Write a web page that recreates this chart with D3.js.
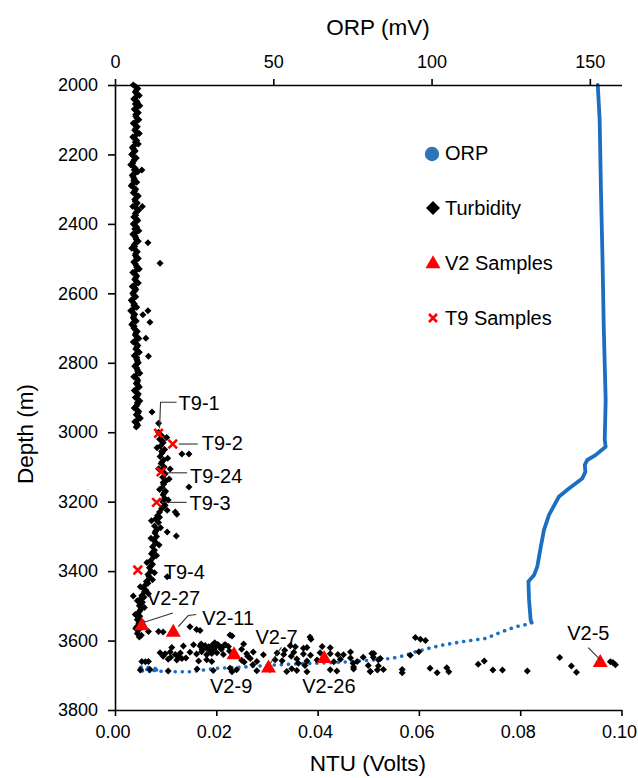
<!DOCTYPE html>
<html><head><meta charset="utf-8">
<script src="https://cdn.jsdelivr.net/npm/d3@7"></script>
<style>
html,body{margin:0;padding:0;background:#fff;}
svg text{font-family:"Liberation Sans",Arial,sans-serif;fill:#000;}
</style></head>
<body><svg id="chart" width="638" height="778"></svg>
<script>
// ---------- DATA ----------
const depthTicks = [2000,2200,2400,2600,2800,3000,3200,3400,3600,3800];
const ntuTicks = [0,0.02,0.04,0.06,0.08,0.10];
const orpTicks = [0,50,100,150];

// ORP (depth m, mV) - continuous trace
const orpLine = [[2000,152.5],[2100,153.1],[2300,153.5],[2500,154.0],[2700,154.4],[2907,155.0],[3022,154.7],[3042,155.0],[3066,151.8],[3080,149.2],[3094,148.4],[3114,148.6],[3133,147.6],[3162,143.4],[3186,140.2],[3238,137.1],[3282,135.5],[3330,134.5],[3387,133.4],[3411,132.4],[3430,130.6],[3483,130.8],[3541,131.3],[3548,131.6]];
// ORP - sparse bottom trace
const orpSparse = [[3548,131.6],[3552,131.0],[3560,126.6],[3574,122.4],[3594,117.1],[3603,109.8],[3613,103.5],[3622,99.3],[3632,95.1],[3642,91.9],[3651,87.7],[3656,81.4],[3661,74.1],[3664,68.0],[3666,60.4],[3670,51.0],[3677,39.4],[3680,32.0],[3690,23.6],[3690,16.3],[3686,12.0],[3680,8.0],[3676,7.0],[3677,11.0],[3683,14.0],[3689,11.0],[3687,7.5],[3682,9.0]];

// Turbidity (depth m, NTU volts)
const turbColumn = [
[2000,0.0036],[2010,0.0045],[2020,0.0040],[2030,0.0048],[2040,0.0037],[2050,0.0044],[2060,0.0049],[2070,0.0038],[2080,0.0046],[2090,0.0041],
[2100,0.0047],[2110,0.0036],[2120,0.0044],[2130,0.0039],[2140,0.0048],[2150,0.0035],[2160,0.0043],[2170,0.0046],[2180,0.0034],[2190,0.0040],
[2200,0.0033],[2210,0.0042],[2220,0.0036],[2230,0.0031],[2240,0.0040],[2250,0.0045],[2260,0.0034],[2270,0.0038],[2280,0.0043],[2290,0.0032],
[2300,0.0041],[2310,0.0036],[2320,0.0046],[2330,0.0039],[2340,0.0044],[2350,0.0035],[2360,0.0047],[2370,0.0040],[2380,0.0037],[2390,0.0045],
[2400,0.0036],[2410,0.0043],[2420,0.0047],[2430,0.0035],[2440,0.0041],[2450,0.0046],[2460,0.0038],[2470,0.0033],[2480,0.0044],[2490,0.0040],
[2500,0.0046],[2510,0.0037],[2520,0.0042],[2530,0.0048],[2540,0.0035],[2550,0.0043],[2560,0.0039],[2570,0.0046],[2580,0.0034],[2590,0.0041],
[2600,0.0035],[2610,0.0041],[2620,0.0032],[2630,0.0038],[2640,0.0043],[2650,0.0031],[2660,0.0039],[2670,0.0036],[2680,0.0042],[2690,0.0033],
[2700,0.0037],[2710,0.0044],[2720,0.0040],[2730,0.0047],[2740,0.0036],[2750,0.0045],[2760,0.0041],[2770,0.0048],[2780,0.0038],[2790,0.0043],
[2800,0.0046],[2810,0.0039],[2820,0.0044],[2830,0.0049],[2840,0.0037],[2850,0.0045],[2860,0.0042],[2870,0.0048],[2880,0.0038],[2890,0.0046],
[2900,0.0040],[2910,0.0049],[2920,0.0044],[2930,0.0038],[2940,0.0047],[2950,0.0042],[2960,0.0050],[2970,0.0039],[2980,0.0045],
[2005,0.0041],[2015,0.0042],[2025,0.0043],[2035,0.0041],[2045,0.0042],[2055,0.0040],[2065,0.0043],[2075,0.0042],[2085,0.0041],[2095,0.0043],
[2105,0.0042],[2115,0.0040],[2125,0.0041],[2135,0.0043],[2145,0.0041],[2155,0.0039],[2165,0.0040],[2175,0.0038],[2185,0.0037],[2195,0.0036],
[2205,0.0037],[2215,0.0038],[2225,0.0035],[2235,0.0036],[2245,0.0038],[2255,0.0039],[2265,0.0036],[2275,0.0037],[2285,0.0035],[2295,0.0037],
[2305,0.0039],[2315,0.0041],[2325,0.0042],[2335,0.0040],[2345,0.0041],[2355,0.0042],[2365,0.0043],[2375,0.0041],[2385,0.0042],[2395,0.0040],
[2405,0.0040],[2415,0.0039],[2425,0.0041],[2435,0.0040],[2445,0.0042],[2455,0.0041],[2465,0.0039],[2475,0.0040],[2485,0.0041],[2495,0.0042],
[2505,0.0041],[2515,0.0040],[2525,0.0043],[2535,0.0041],[2545,0.0040],[2555,0.0041],[2565,0.0042],[2575,0.0039],[2585,0.0040],[2595,0.0038],
[2605,0.0037],[2615,0.0036],[2625,0.0035],[2635,0.0037],[2645,0.0036],[2655,0.0035],[2665,0.0037],[2675,0.0038],[2685,0.0036],[2695,0.0038],
[2705,0.0040],[2715,0.0041],[2725,0.0043],[2735,0.0041],[2745,0.0042],[2755,0.0043],[2765,0.0044],[2775,0.0042],[2785,0.0043],[2795,0.0044],
[2805,0.0042],[2815,0.0043],[2825,0.0045],[2835,0.0042],[2845,0.0043],[2855,0.0044],[2865,0.0045],[2875,0.0043],[2885,0.0042],[2895,0.0044],
[2905,0.0045],[2915,0.0044],[2925,0.0042],[2935,0.0043],[2945,0.0045],[2955,0.0046],[2965,0.0044],[2975,0.0043],[2985,0.0042],
[3000,0.0086],[3010,0.0092],[3020,0.0088],[3030,0.0095],[3040,0.0090],[3050,0.0098],[3060,0.0093],[3070,0.0089],[3080,0.0096],[3090,0.0091],
[3100,0.0097],[3110,0.0092],[3120,0.0099],[3130,0.0094],[3140,0.0101],[3150,0.0096],[3160,0.0093],[3170,0.0100],[3180,0.0095],[3190,0.0098],
[3200,0.0094],[3210,0.0099],[3220,0.0092],[3230,0.0088],[3240,0.0084],[3250,0.0080],[3260,0.0086],[3270,0.0078],[3280,0.0083],[3290,0.0079],
[3300,0.0082],[3310,0.0076],[3320,0.0080],[3330,0.0074],[3340,0.0078],[3350,0.0072],[3360,0.0076],[3370,0.0070],[3380,0.0074],[3390,0.0068],
[3400,0.0071],[3410,0.0065],[3420,0.0068],[3430,0.0062],[3440,0.0060],[3450,0.0056],[3460,0.0058],[3470,0.0053],[3480,0.0050],[3490,0.0054],
[3500,0.0048],[3510,0.0051],[3520,0.0046],[3530,0.0049],[3540,0.0044],[3550,0.0047],[3560,0.0043],[3570,0.0046],[3580,0.0044],[3590,0.0048],
[3015,0.0102],[3045,0.0083],[3075,0.0104],[3105,0.0086],[3135,0.0107],[3165,0.0088],[3195,0.0105],[3225,0.0103],[3255,0.0072],[3275,0.0090],
[3305,0.0071],[3325,0.0087],[3355,0.0082],[3375,0.0063],[3405,0.0078],[3425,0.0074],[3445,0.0050],[3465,0.0066],[3485,0.0044],[3505,0.0058],
[3525,0.0040],[3545,0.0053],[3565,0.0041],[3585,0.0052],
[3025,0.0094],[3055,0.0092],[3085,0.0093],[3115,0.0096],[3145,0.0095],[3175,0.0097],[3215,0.0095],[3245,0.0088],[3285,0.0080],[3315,0.0079],
[3345,0.0075],[3385,0.0071],[3415,0.0067],[3435,0.0065],[3455,0.0061],[3475,0.0057],[3495,0.0051],[3515,0.0049],[3535,0.0046]
];
const turbOutliers = [
[2245,0.0053],[2350,0.0054],[2454,0.0065],[2513,0.0089],[2650,0.0065],[2662,0.0055],[2683,0.0069],[2729,0.0061],[2781,0.0066],[2942,0.0073],[2974,0.0086],
[3063,0.0132],[3063,0.0146],[3106,0.0109],[3158,0.0146],[3236,0.0122],[3230,0.0119],[3287,0.0103],[3299,0.0121],[3416,0.0103],[3472,0.0036]
];
const turbBottom = [
[3574,0.0066],[3574,0.0086],[3560,0.0148],[3568,0.0161],[3571,0.0168],[3587,0.0231],[3596,0.0387],[3575,0.0095],[3590,0.0385],[3584,0.0227],
[3612,0.0155],[3616,0.0168],[3614,0.0178],[3618,0.0185],[3613,0.0192],[3619,0.0198],[3615,0.0205],[3620,0.0211],[3612,0.0218],[3617,0.0224],
[3622,0.0180],[3624,0.0195],[3625,0.0210],[3620,0.0112],[3616,0.0135],[3610,0.0254],[3615,0.0346],[3618,0.0356],[3622,0.0372],[3620,0.0379],
[3617,0.0409],[3621,0.0425],
[3635,0.0089],[3638,0.0099],[3633,0.0109],[3640,0.0119],[3636,0.0129],[3634,0.0148],[3639,0.0161],[3632,0.0171],[3641,0.0181],[3637,0.0191],
[3635,0.0201],[3640,0.0214],[3638,0.0260],[3633,0.0273],[3641,0.0293],[3636,0.0320],[3640,0.0333],[3634,0.0353],[3639,0.0372],[3642,0.0386],
[3635,0.0405],[3638,0.0425],[3641,0.0451],[3633,0.0465],[3637,0.0511],
[3654,0.0105],[3656,0.0122],[3652,0.0132],[3659,0.0165],[3655,0.0181],[3660,0.0191],[3657,0.0250],[3652,0.0267],[3660,0.0280],[3655,0.0316],
[3658,0.0330],[3653,0.0359],[3659,0.0379],[3656,0.0399],[3661,0.0432],[3654,0.0445],[3660,0.0478],[3652,0.0524],
[3685,0.0050],[3683,0.0069],[3688,0.0105],[3682,0.0162],[3686,0.0194],[3680,0.0227],[3690,0.0231],[3684,0.0240],[3687,0.0280],[3683,0.0306],
[3689,0.0339],[3681,0.0349],[3686,0.0359],[3690,0.0379],[3684,0.0425],[3688,0.0438],[3682,0.0471],[3689,0.0504],[3685,0.0518],
[3660,0.0053],[3661,0.0060],[3660,0.0066],
[3610,0.0170],[3606,0.0197],[3611,0.0203],[3613,0.0216],[3626,0.0172],
[3628,0.0186],[3630,0.0226],[3645,0.0095],[3648,0.0110],[3646,0.0125],[3650,0.0140],[3625,0.0250],[3645,0.0262],
[3662,0.0255],[3670,0.0272],[3628,0.0335],[3645,0.0348],[3665,0.0362],[3672,0.0375],
[3640,0.0440],[3665,0.0470],[3648,0.0490],[3672,0.0500],[3655,0.0520],[3683,0.0530],[3650,0.0465],[3676,0.0471],
[3591,0.0593],[3600,0.0613],[3596,0.0603],[3632,0.0600],[3642,0.0583],[3637,0.0507],[3648,0.0510],[3673,0.0520],[3689,0.0504],[3683,0.0567],
[3693,0.0567],[3680,0.0622],[3693,0.0636],[3678,0.0655],[3690,0.0659],[3668,0.0717],[3659,0.0729],[3685,0.0746],[3685,0.0765],[3688,0.0814],
[3649,0.0878],[3673,0.0901],[3691,0.0911],[3661,0.0978],[3663,0.0983],[3670,0.0988]
];

// Samples
const v2Names = ["V2-27","V2-11","V2-9","V2-7","V2-26","V2-5"];
const v2Depth = [3555,3574,3639,3677,3650,3661];
const v2NTU   = [0.0053,0.0115,0.0235,0.0303,0.0413,0.0958];
const t9Names = ["T9-1","T9-2","T9-24","T9-3","T9-4"];
const t9Depth = [3003,3034,3114,3202,3397];
const t9NTU   = [0.0086,0.0114,0.0091,0.0082,0.0045];

const legendItems = ["ORP","Turbidity","V2 Samples","T9 Samples"];

// ---------- LAYOUT (label offsets in px relative to the mark) ----------
const labelLayout = {
  "T9-1":  {dx:20, dy:-30, leader:[[18,-31],[2,-31],[1,-5]]},
  "T9-2":  {dx:29, dy:-1,  leader:[[6,0],[25,0]]},
  "T9-24": {dx:29, dy:4,   leader:[[5,1],[26,1]]},
  "T9-3":  {dx:33, dy:1,   leader:[[5,0],[30,0]]},
  "T9-4":  {dx:26, dy:2,   leader:null},
  "V2-27": {dx:5,  dy:-27, leader:[[3,-3],[31,-12]]},
  "V2-11": {dx:29, dy:-14, leader:[[5,-5],[15,-16],[23,-17]]},
  "V2-7":  {dx:-13,dy:-30, leader:[[2,-4],[13,-20]]},
  "V2-9":  {dx:-24,dy:32,  leader:null},
  "V2-26": {dx:-22,dy:28,  leader:null},
  "V2-5":  {dx:-33,dy:-29, leader:[[-12,-14],[0,-2]]}
};

// ---------- DRAW ----------
const svg = d3.select("#chart");
const L = 115, R = 621.5, T = 85, B = 710;
const y = d3.scaleLinear().domain([2000,3800]).range([T,B]);
const x = d3.scaleLinear().domain([0,0.10]).range([L,R]);
const xo = d3.scaleLinear().domain([0,160]).range([L,R]);
const BLUE = "#1b6ec2", RED = "#ff0000";
const tickFont = "18px";

// ORP
const orpGen = d3.line().x(d => xo(d[1])).y(d => y(d[0]));
svg.append("path").attr("d", orpGen(orpLine)).attr("fill","none")
  .attr("stroke",BLUE).attr("stroke-width",3.8).attr("stroke-linejoin","round").attr("stroke-linecap","round");
svg.append("path").attr("d", orpGen(orpSparse)).attr("fill","none")
  .attr("stroke",BLUE).attr("stroke-width",3.6).attr("stroke-linecap","round")
  .attr("stroke-dasharray","0.1 7");

// Turbidity diamonds
const diamond = r => `M0,${-r}L${r},0L0,${r}L${-r},0Z`;
const turbAll = turbColumn.concat(turbOutliers, turbBottom);
svg.append("g").selectAll("path").data(turbAll).join("path")
  .attr("d", diamond(3.5))
  .attr("transform", d => `translate(${x(d[1])},${y(d[0])})`)
  .attr("fill","#000");

// Axes
function styleAxis(g){
  g.select(".domain").attr("stroke","#000").attr("stroke-width",1.6);
  g.selectAll(".tick line").attr("stroke","#000").attr("stroke-width",1.6);
  g.selectAll(".tick text").style("font-size",tickFont).attr("fill","#000")
    .style("font-family","'Liberation Sans',Arial,sans-serif");
}
svg.append("g").attr("transform",`translate(${L},0)`)
  .call(d3.axisLeft(y).tickValues(depthTicks).tickFormat(d3.format("d")).tickSize(7).tickSizeOuter(0).tickPadding(10))
  .call(styleAxis);
const gx = svg.append("g").attr("transform",`translate(0,${B})`)
  .call(d3.axisBottom(x).tickValues(ntuTicks).tickFormat(d3.format(".2f")).tickSize(6).tickSizeOuter(0).tickPadding(9))
  .call(styleAxis);
gx.selectAll(".tick text").attr("dx",-2.5);
svg.append("g").attr("transform",`translate(0,${T})`)
  .call(d3.axisTop(xo).tickValues(orpTicks).tickFormat(d3.format("d")).tickSize(6).tickSizeOuter(0).tickPadding(11))
  .call(styleAxis);

// Axis titles
svg.append("text").attr("x",378).attr("y",35).attr("text-anchor","middle").style("font-size","22.5px").text("ORP (mV)");
svg.append("text").attr("x",368).attr("y",771).attr("text-anchor","middle").style("font-size","22.5px").text("NTU (Volts)");
svg.append("text").attr("transform","translate(33,434) rotate(-90)").attr("text-anchor","middle").style("font-size","22.5px").text("Depth (m)");

// Leaders + labels
function drawLabel(name, px, py){
  const lay = labelLayout[name];
  if (lay.leader){
    svg.append("path").attr("d", d3.line()(lay.leader.map(p => [px+p[0], py+p[1]])))
      .attr("fill","none").attr("stroke","#333").attr("stroke-width",1.1);
  }
  svg.append("text").attr("x",px+lay.dx).attr("y",py+lay.dy).attr("dy","0.35em")
    .style("font-size","20px").text(name);
}

// V2 triangles
const tri = (w,h) => `M0,${-h*0.6}L${w/2},${h*0.4}L${-w/2},${h*0.4}Z`;
v2Names.forEach((n,i) => {
  const px = x(v2NTU[i]), py = y(v2Depth[i]);
  svg.append("path").attr("d",tri(15,13)).attr("transform",`translate(${px},${py})`).attr("fill",RED);
});
// T9 crosses
const cross = r => `M${-r},${-r}L${r},${r}M${-r},${r}L${r},${-r}`;
t9Names.forEach((n,i) => {
  const px = x(t9NTU[i]), py = y(t9Depth[i]);
  svg.append("path").attr("d",cross(4.3)).attr("transform",`translate(${px},${py})`)
    .attr("stroke",RED).attr("stroke-width",2.6).attr("fill","none");
});
v2Names.forEach((n,i) => drawLabel(n, x(v2NTU[i]), y(v2Depth[i])));
t9Names.forEach((n,i) => drawLabel(n, x(t9NTU[i]), y(t9Depth[i])));

// Legend
const lgX = 433, lgTextX = 445, lgY = [153,208,263,318];
const lg = svg.append("g");
lg.append("circle").attr("cx",lgX-1).attr("cy",lgY[0]+1).attr("r",7.2).attr("fill","#2e75b6");
lg.append("path").attr("d",diamond(7)).attr("transform",`translate(${lgX},${lgY[1]})`).attr("fill","#000");
lg.append("path").attr("d",tri(15,13)).attr("transform",`translate(${lgX},${lgY[2]})`).attr("fill",RED);
lg.append("path").attr("d",cross(4)).attr("transform",`translate(${lgX},${lgY[3]})`)
  .attr("stroke",RED).attr("stroke-width",2.6).attr("fill","none");
legendItems.forEach((t,i) => {
  lg.append("text").attr("x",lgTextX).attr("y",lgY[i]).attr("dy","0.35em").style("font-size","20px").text(t);
});
</script></body></html>
